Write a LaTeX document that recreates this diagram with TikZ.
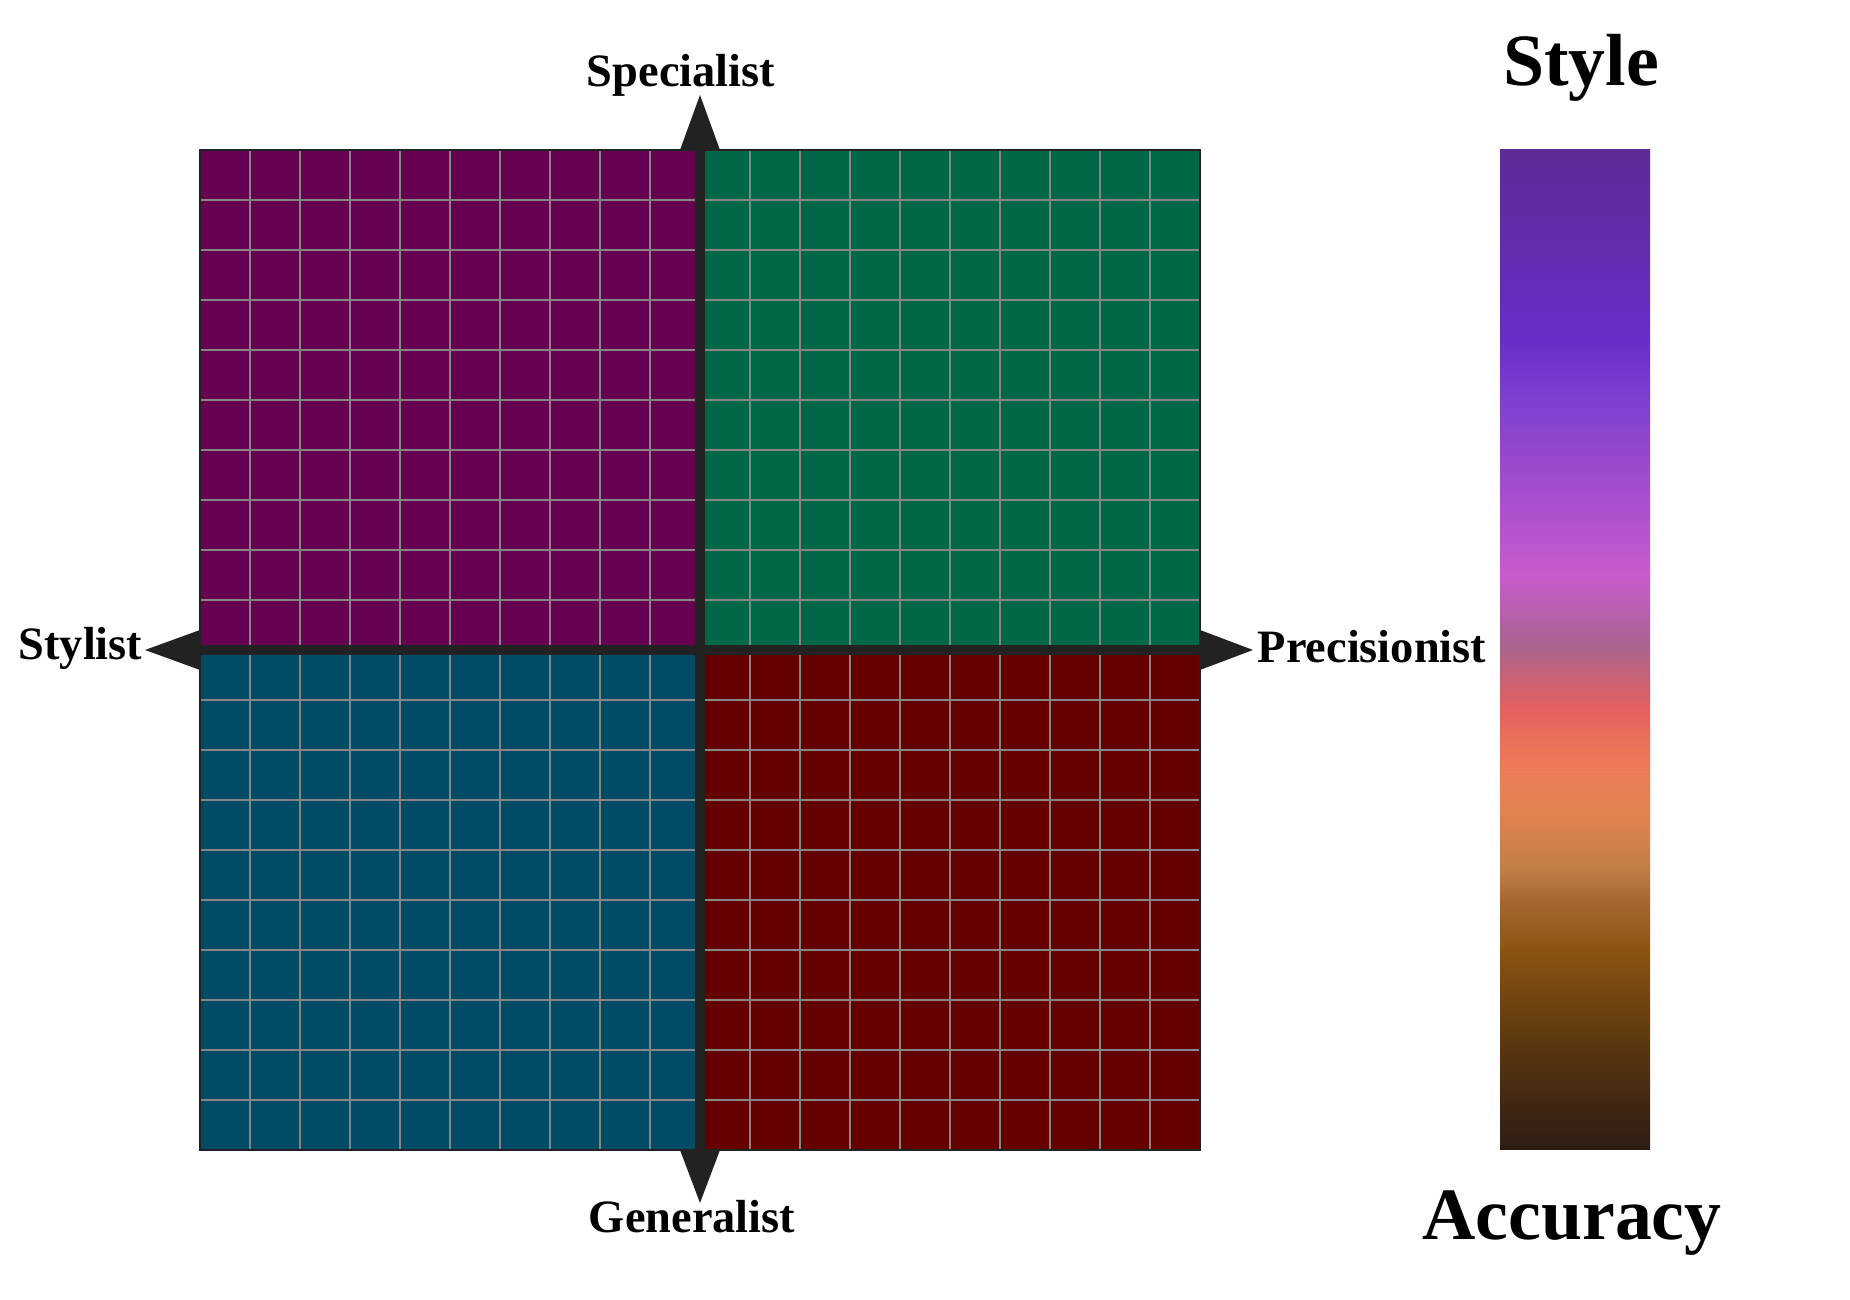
\documentclass[tikz,border=0pt]{standalone}
\usepackage{fontspec}
\setmainfont{Liberation Serif}
\usepackage{xcolor}
\usepackage{tikz}
\usetikzlibrary{positioning,calc}

\definecolor{quadpurple}{HTML}{660050}
\definecolor{quadgreen}{HTML}{006848}
\definecolor{quadblue}{HTML}{004C66}
\definecolor{quadred}{HTML}{640000}
\definecolor{gridgray}{HTML}{858585}
\definecolor{axisdark}{HTML}{222222}

\definecolor{cbA}{HTML}{5E2A96}
\definecolor{cbB}{HTML}{6A2DC8}
\definecolor{cbC}{HTML}{7E40D0}
\definecolor{cbD}{HTML}{C85ACC}
\definecolor{cbE}{HTML}{A86490}
\definecolor{cbF}{HTML}{E06060}
\definecolor{cbG}{HTML}{EE7858}
\definecolor{cbH}{HTML}{E4834F}
\definecolor{cbI}{HTML}{C07E45}
\definecolor{cbJ}{HTML}{A86830}
\definecolor{cbK}{HTML}{8A5410}
\definecolor{cbL}{HTML}{583510}
\definecolor{cbM}{HTML}{2E1C14}

\begin{document}
\begin{tikzpicture}[
		axislabel/.style={font=\bfseries\fontsize{13.2}{15}\selectfont, inner sep=0pt},
		barlabel/.style={font=\bfseries\fontsize{21}{24}\selectfont, inner sep=0pt},
		gridline/.style={draw=gridgray, line width=0.35pt},
		axisarrow/.style={fill=axisdark, draw=none}
	]
		\useasboundingbox (0,0) rectangle (18.5,13);

		% quadrants
		\fill[quadpurple] (2,6.5) rectangle (7,11.5);
		\fill[quadgreen] (7,6.5) rectangle (12,11.5);
		\fill[quadblue] (2,1.5) rectangle (7,6.5);
		\fill[quadred] (7,1.5) rectangle (12,6.5);

		\foreach \gx in {2.5,3,...,11.5}
			\draw[gridline] (\gx,1.5) -- (\gx,11.5);
		\foreach \gy in {2,2.5,...,11}
			\draw[gridline] (2,\gy) -- (12,\gy);
		\draw[axisdark, line width=0.4pt] (2,1.5) rectangle (12,11.5);

		% axes
		\fill[axisdark] (6.95,1.5) rectangle (7.05,11.5);
		\fill[axisdark] (2,6.45) rectangle (12,6.55);
		\fill[axisarrow] (6.8,11.5) -- (7.2,11.5) -- (7,12.05) -- cycle;
		\fill[axisarrow] (6.8,1.5) -- (7.2,1.5) -- (7,0.97) -- cycle;
		\fill[axisarrow] (2,6.7) -- (2,6.3) -- (1.45,6.5) -- cycle;
		\fill[axisarrow] (12,6.7) -- (12,6.3) -- (12.53,6.5) -- cycle;

		\node[axislabel, anchor=base] (specialist) at (6.81,12.13) {Specialist};
		\node[axislabel, anchor=base] (generalist) at (6.92,0.67) {Generalist};
		\node[axislabel, anchor=base east] (stylist) at (1.43,6.40) {Stylist};
		\node[axislabel, anchor=base west] (precisionist) at (12.57,6.37) {Precisionist};

		% colour bar
		\foreach \ya/\yb/\ca/\cb in {0/1.9/cbA/cbB, 1.9/2.5/cbB/cbC, 2.5/4.25/cbC/cbD, 4.25/4.95/cbD/cbE,
				4.95/5.55/cbE/cbF, 5.55/6.1/cbF/cbG, 6.1/6.6/cbG/cbH, 6.6/7.2/cbH/cbI, 7.2/7.5/cbI/cbJ,
				7.5/8.0/cbJ/cbK, 8.0/9.0/cbK/cbL, 9.0/10.0/cbL/cbM} {
			\shade[top color=\ca, bottom color=\cb] (15,{11.5-\ya+0.005}) rectangle (16.5,{11.5-\yb});
		}

		\node[barlabel, anchor=base] (style) at (15.81,12.14) {Style};
		\node[barlabel, anchor=base] (accuracy) at (15.72,0.60) {Accuracy};
	\end{tikzpicture}
\end{document}
